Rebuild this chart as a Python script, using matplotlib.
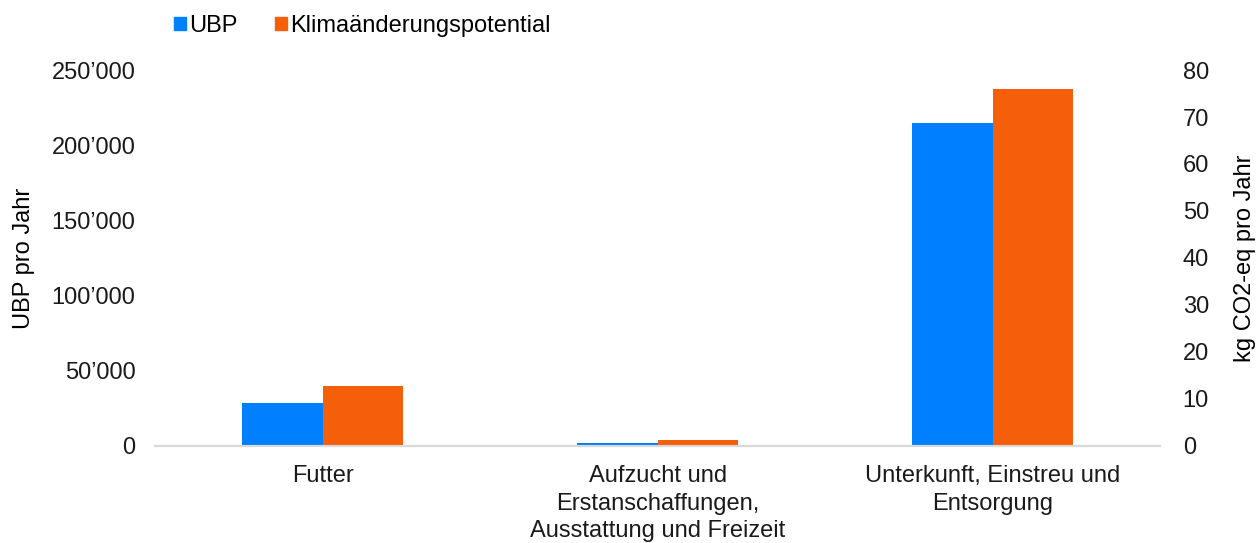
import numpy as np
import matplotlib.pyplot as plt
from matplotlib.patches import Patch
from matplotlib.ticker import FuncFormatter

plt.rcParams['font.family'] = ['Liberation Sans', 'DejaVu Sans']

categories = ['Futter',
              'Aufzucht und\nErstanschaffungen,\nAusstattung und Freizeit',
              'Unterkunft, Einstreu und\nEntsorgung']
ubp = [28600, 2000, 214600]
klima = [12.8, 1.3, 75.9]

blue = '#0080FF'
orange = '#F55F0A'
fs = 17

fig = plt.figure(figsize=(12.6, 5.43), dpi=100)
ax = fig.add_axes([0.123, 0.179, 0.798, 0.692])
ax2 = ax.twinx()

x = np.arange(len(categories))
w = 0.24
ax.bar(x - w / 2, ubp, width=w, color=blue, zorder=2)
ax2.bar(x + w / 2, klima, width=w, color=orange, zorder=2)

ax.set_xlim(-0.5, 2.5)
ax.set_ylim(0, 250000)
ax2.set_ylim(0, 80)
ax.set_yticks(np.arange(0, 250001, 50000))
ax2.set_yticks(np.arange(0, 81, 10))

def fmt(v, pos):
    return '{:,.0f}'.format(v).replace(',', '\u2019')

ax.yaxis.set_major_formatter(FuncFormatter(fmt))
ax.set_xticks(x)
ax.set_xticklabels(categories, fontsize=fs, linespacing=1.33)

for a in (ax, ax2):
    for s in ['top', 'left', 'right']:
        a.spines[s].set_visible(False)
    a.spines['bottom'].set_color('#D9D9D9')
    a.spines['bottom'].set_linewidth(1.5)
    a.tick_params(length=0, labelsize=fs, colors='#1a1a1a')

ax.tick_params(axis='y', pad=14)
ax2.tick_params(axis='y', pad=16)
ax.tick_params(axis='x', pad=14)

ax.set_ylabel('UBP pro Jahr', fontsize=fs, labelpad=12)
ax2.set_ylabel('kg CO2-eq pro Jahr', fontsize=fs, labelpad=18)

handles = [Patch(color=blue, label='UBP'), Patch(color=orange, label='Klimaänderungspotential')]
fig.legend(handles=handles, loc='upper left', bbox_to_anchor=(0.121, 1.012), ncol=2,
           frameon=False, fontsize=fs, handlelength=0.5, handleheight=0.45,
           handletextpad=0.15, columnspacing=1.6)

plt.savefig('out.png', dpi=100)
